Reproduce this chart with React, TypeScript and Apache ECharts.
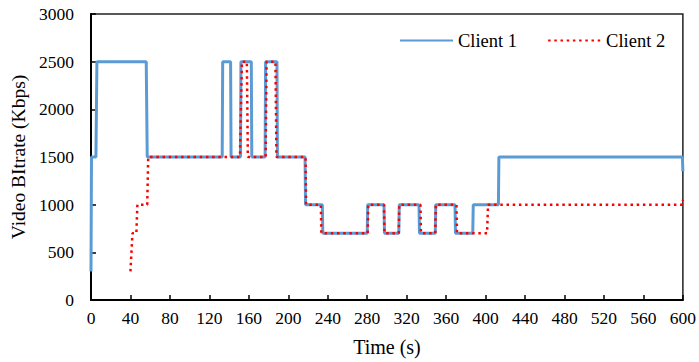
import React, { useEffect, useRef } from "react";
import * as echarts from "echarts";

// Client 1 (blue, solid): time (s) and bitrate (Kbps)
const client1Time = [0, 0.5, 5, 6, 56, 57, 133, 133.5, 141.5, 142, 151.5, 152, 162.5, 163, 176.5, 177, 188.5, 189, 217, 217.5, 234.5, 235, 280, 280.5, 297, 297.5, 312, 312.5, 332.5, 333, 349, 349.5, 369, 369.5, 387, 387.5, 413, 413.5, 599.5, 600];
const client1Rate = [300, 1500, 1500, 2500, 2500, 1500, 1500, 2500, 2500, 1500, 1500, 2500, 2500, 1500, 1500, 2500, 2500, 1500, 1500, 1000, 1000, 700, 700, 1000, 1000, 700, 700, 1000, 1000, 700, 700, 1000, 1000, 700, 700, 1000, 1000, 1500, 1500, 1350];

// Client 2 (red, dotted)
const client2Time = [40, 42, 46, 47, 57, 58, 151, 153, 158, 159, 177, 178, 187, 188, 217.5, 218, 233, 233.5, 280.5, 281, 297, 297.5, 312, 312.5, 334, 334.5, 349, 349.5, 370.5, 371, 401.5, 402.5, 599.5, 600];
const client2Rate = [300, 700, 700, 1000, 1000, 1500, 1500, 2500, 2500, 1500, 1500, 2500, 2500, 1500, 1500, 1000, 1000, 700, 700, 1000, 1000, 700, 700, 1000, 1000, 700, 700, 1000, 1000, 700, 700, 1000, 1000, 1050];

const xTicks = { min: 0, max: 600, interval: 40 };
const yTicks = { min: 0, max: 3000, interval: 500 };

const FONT = "Liberation Serif";

export default function App() {
  const ref = useRef<HTMLDivElement>(null);
  useEffect(() => {
    if (!ref.current) return;
    const chart = echarts.init(ref.current, undefined, { renderer: "svg" });
    const s1 = client1Time.map((t, i) => [t, client1Rate[i]]);
    const s2 = client2Time.map((t, i) => [t, client2Rate[i]]);
    chart.setOption({
      animation: false,
      backgroundColor: "#fff",
      textStyle: { fontFamily: FONT, color: "#000" },
      grid: {
        left: 91,
        right: 15,
        top: 14,
        bottom: 58,
        show: true,
        borderColor: "#222",
        borderWidth: 1.5,
      },
      legend: {
        left: 394,
        top: 26,
        itemWidth: 53,
        itemHeight: 14,
        itemGap: 30,
        itemStyle: { opacity: 0 },
        textStyle: { fontFamily: FONT, fontSize: 18.5, color: "#000" },
        data: ["Client 1", "Client 2"],
      },
      xAxis: {
        type: "value",
        min: xTicks.min,
        max: xTicks.max,
        interval: xTicks.interval,
        name: "Time (s)",
        nameLocation: "middle",
        nameGap: 37,
        nameTextStyle: { fontFamily: FONT, fontSize: 20, color: "#000" },
        axisLine: { onZero: false, lineStyle: { color: "#000", width: 2 } },
        axisTick: { inside: true, length: 5, lineStyle: { color: "#000", width: 1.5 } },
        axisLabel: { fontFamily: FONT, fontSize: 17.5, color: "#000", margin: 9, formatter: (v: number) => String(v) },
        splitLine: { show: false },
      },
      yAxis: {
        type: "value",
        min: yTicks.min,
        max: yTicks.max,
        interval: yTicks.interval,
        name: "Video BItrate (Kbps)",
        nameLocation: "middle",
        nameGap: 60,
        nameTextStyle: { fontFamily: FONT, fontSize: 19.5, color: "#000" },
        axisLine: { show: true, lineStyle: { color: "#000", width: 2 } },
        axisTick: { show: true, inside: true, length: 5, lineStyle: { color: "#000", width: 1.5 } },
        axisLabel: { fontFamily: FONT, fontSize: 17.5, color: "#000", margin: 17, formatter: (v: number) => String(v) },
        splitLine: { show: false },
      },
      series: [
        {
          name: "Client 1",
          type: "line",
          data: s1,
          symbol: "none",
          lineStyle: { color: "#5B9BD5", width: 3 },
          itemStyle: { color: "#5B9BD5" },
          z: 2,
        },
        {
          name: "Client 2",
          type: "line",
          data: s2,
          symbol: "none",
          lineStyle: { color: "#FF0000", width: 2.5, type: [2.5, 3.7] },
          itemStyle: { color: "#FF0000" },
          z: 3,
        },
      ],
    });
    return () => chart.dispose();
  }, []);
  return <div ref={ref} style={{ position: "fixed", left: 0, top: 0, width: 699, height: 362 }} />;
}
